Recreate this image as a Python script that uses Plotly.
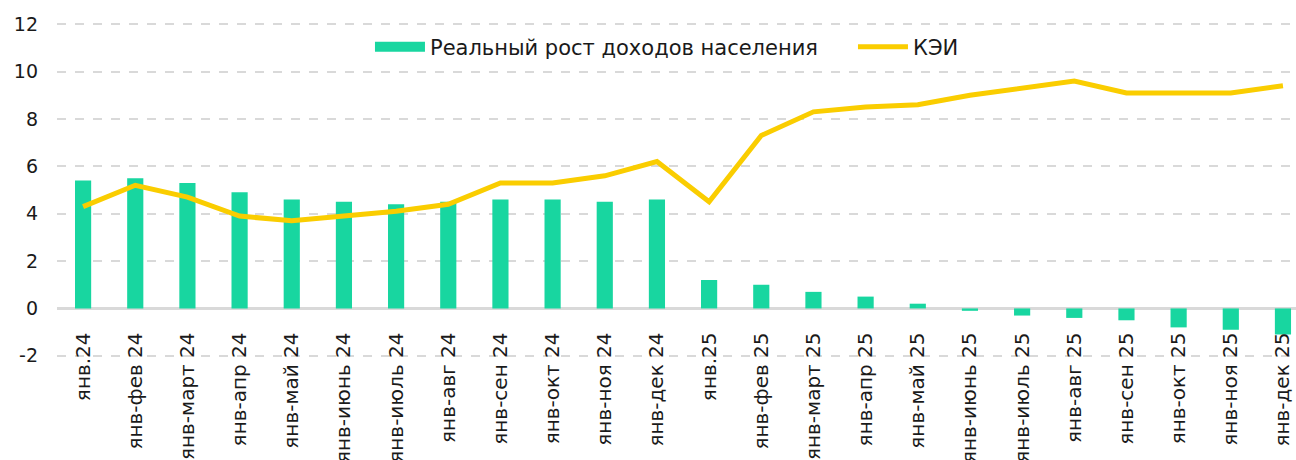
import plotly.graph_objects as go

categories = ["янв.24", "янв-фев 24", "янв-март 24", "янв-апр 24", "янв-май 24", "янв-июнь 24",
              "янв-июль 24", "янв-авг 24", "янв-сен 24", "янв-окт 24", "янв-ноя 24", "янв-дек 24",
              "янв.25", "янв-фев 25", "янв-март 25", "янв-апр 25", "янв-май 25", "янв-июнь 25",
              "янв-июль 25", "янв-авг 25", "янв-сен 25", "янв-окт 25", "янв-ноя 25", "янв-дек 25"]
income_growth = [5.4, 5.5, 5.3, 4.9, 4.6, 4.5, 4.4, 4.5, 4.6, 4.6, 4.5, 4.6,
                 1.2, 1.0, 0.7, 0.5, 0.2, -0.1, -0.3, -0.4, -0.5, -0.8, -0.9, -1.1]
kei = [4.3, 5.2, 4.7, 3.9, 3.7, 3.9, 4.1, 4.4, 5.3, 5.3, 5.6, 6.2,
       4.5, 7.3, 8.3, 8.5, 8.6, 9.0, 9.3, 9.6, 9.1, 9.1, 9.1, 9.4]
y_ticks = [-2, 0, 2, 4, 6, 8, 10, 12]
y_tick_labels = ["-2", "0", "2", "4", "6", "8", "10", "12"]

FONT = "DejaVu Sans"
GREEN = "#18D6A0"
YELLOW = "#FACD00"
x_idx = list(range(len(categories)))

fig = go.Figure()
fig.add_trace(go.Bar(
    x=x_idx, y=income_growth, name="Реальный рост доходов населения",
    marker=dict(color=GREEN, line=dict(width=0)), width=0.31, showlegend=False,
))
# legend-only entry drawn as a wide rectangle, like the reference legend key
fig.add_trace(go.Scatter(
    x=[None], y=[None], name="Реальный рост доходов населения", mode="lines",
    line=dict(color=GREEN, width=13), showlegend=True,
))
fig.add_trace(go.Scatter(
    x=x_idx, y=kei, name="КЭИ", mode="lines",
    line=dict(color=YELLOW, width=5),
))

ymin, ymax = -2.05, 12.05
fig.update_layout(
    width=1296, height=460,
    margin=dict(l=57, r=0, t=23, b=103, autoexpand=False),
    paper_bgcolor="white", plot_bgcolor="white",
    font=dict(family=FONT, size=18, color="#1a1a1a"),
    showlegend=True,
    legend=dict(orientation="h", x=0.2526, xanchor="left", y=0.928, yanchor="middle",
                bgcolor="white", font=dict(family=FONT, size=21, color="#1a1a1a"),
                itemwidth=50, traceorder="normal", entrywidth=418, entrywidthmode="pixels"),
    xaxis=dict(
        tickmode="array", tickvals=x_idx, ticktext=categories,
        range=[-0.5, 23.25], tickangle=-90, showgrid=False, showline=False,
        ticks="", anchor="free", position=(0 - ymin) / (ymax - ymin),
        tickfont=dict(family=FONT, size=20, color="#1a1a1a"),
        ticklabelstandoff=19, automargin=False, ticklabeloverflow="allow",
    ),
    yaxis=dict(
        range=[ymin, ymax], tickmode="array", tickvals=y_ticks, ticktext=y_tick_labels,
        showgrid=True, gridcolor="#D9D9D9", griddash="dash", gridwidth=1.5,
        zeroline=True, zerolinecolor="#D9D9D9", zerolinewidth=2.5,
        showline=False, ticks="", ticklabelstandoff=18, automargin=False,
        tickfont=dict(family=FONT, size=19, color="#1a1a1a"),
    ),
)

fig.write_html("out.html", post_script="document.body.style.margin='0';",
               config={"displayModeBar": False})
